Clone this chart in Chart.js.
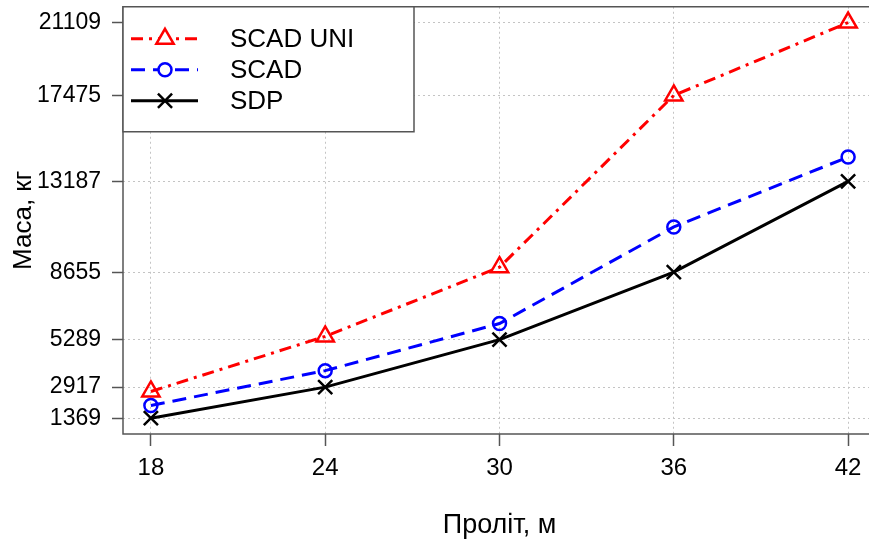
<!DOCTYPE html>
<html>
<head>
<meta charset="utf-8">
<script src="https://cdn.jsdelivr.net/npm/chart.js@4"></script>
<style>
    html, body { margin: 0; padding: 0; background: #fff; overflow: hidden; }
    .chart_wrap { position: relative; width: 890px; height: 554px; margin-top: -10px; }
</style>
</head>
<body>
<div class="chart_wrap"><canvas id="chartMass"></canvas></div>
<script>
// data
const spans = [18, 24, 30, 36, 42];
const scadUni = [2700, 5450, 8900, 17475, 21109];
const scad = [2000, 3740, 6090, 10910, 14400];
const sdp = [1369, 2917, 5289, 8655, 13187];
const yTicks = [1369, 2917, 5289, 8655, 13187, 17475, 21109];
const xTicks = [18, 24, 30, 36, 42];

const fontName = "'Liberation Sans', Arial, sans-serif";
const boxColor = '#555';
const gridColor = '#c4c4c4';

//legend - drawn inside the plot box, R style
const legendBox = {
    id: 'legendBox',
    afterDraw(chart) {
        const { ctx, chartArea } = chart;
        const x0 = chartArea.left, y0 = chartArea.top;
        ctx.save();
        ctx.fillStyle = '#fff';
        ctx.strokeStyle = boxColor;
        ctx.lineWidth = 1.5;
        ctx.fillRect(x0, y0, 291, 125);
        ctx.strokeRect(x0, y0, 291, 125);
        chart.data.datasets.forEach((ds, i) => {
            const y = y0 + 32 + i * 31;
            ctx.strokeStyle = ds.borderColor;
            ctx.lineWidth = ds.borderWidth;
            ctx.setLineDash(ds.borderDash || []);
            ctx.beginPath();
            ctx.moveTo(x0 + 8, y);
            ctx.lineTo(x0 + 75, y);
            ctx.stroke();
            ctx.setLineDash([]);
            ctx.fillStyle = '#fff';
            ctx.lineWidth = ds.pointBorderWidth;
            Chart.helpers.drawPoint(ctx, {
                pointStyle: ds.pointStyle,
                rotation: 0,
                radius: ds.pointRadius,
                borderWidth: ds.pointBorderWidth
            }, x0 + 42, y);
            ctx.fillStyle = '#000';
            ctx.font = '26px ' + fontName;
            ctx.textAlign = 'left';
            ctx.textBaseline = 'middle';
            ctx.fillText(ds.label, x0 + 107, y + 1);
        });
        ctx.restore();
    }
};

//plot box
const plotBox = {
    id: 'plotBox',
    beforeDatasetsDraw(chart) {
        const { ctx, chartArea } = chart;
        ctx.save();
        ctx.strokeStyle = boxColor;
        ctx.lineWidth = 1.5;
        ctx.strokeRect(chartArea.left, chartArea.top, chartArea.right - chartArea.left, chartArea.bottom - chartArea.top);
        ctx.restore();
    }
};

const toPoints = arr => arr.map((v, i) => ({ x: spans[i], y: v }));

new Chart(document.getElementById('chartMass').getContext('2d'), {
    type: 'line',
    data: {
        datasets: [
            {
                label: 'SCAD UNI',
                data: toPoints(scadUni),
                borderColor: '#ff0000',
                borderWidth: 3,
                borderDash: [12, 6, 3, 6],
                pointStyle: 'triangle',
                pointRadius: 10,
                pointBorderWidth: 2.5,
                pointBorderColor: '#ff0000',
                pointBackgroundColor: 'rgba(0,0,0,0)',
                tension: 0
            },
            {
                label: 'SCAD',
                data: toPoints(scad),
                borderColor: '#0000ff',
                borderWidth: 3,
                borderDash: [14, 8],
                pointStyle: 'circle',
                pointRadius: 6.5,
                pointBorderWidth: 2.5,
                pointBorderColor: '#0000ff',
                pointBackgroundColor: 'rgba(0,0,0,0)',
                tension: 0
            },
            {
                label: 'SDP',
                data: toPoints(sdp),
                borderColor: '#000000',
                borderWidth: 3,
                borderDash: [],
                pointStyle: 'crossRot',
                pointRadius: 10,
                pointBorderWidth: 2.5,
                pointBorderColor: '#000000',
                pointBackgroundColor: 'rgba(0,0,0,0)',
                tension: 0
            }
        ]
    },
    options: {
        responsive: true,
        maintainAspectRatio: false,
        animation: false,
        layout: { padding: { left: 0, right: 14, top: 0, bottom: 0 } },
        plugins: {
            legend: { display: false },
            tooltip: { enabled: false }
        },
        scales: {
            x: {
                type: 'linear',
                min: 17.04,
                max: 42.96,
                afterBuildTicks: scale => { scale.ticks = xTicks.map(v => ({ value: v })); },
                afterFit: scale => { scale.height = 110; },
                grid: {
                    color: gridColor,
                    lineWidth: 1,
                    tickLength: 12,
                    tickColor: boxColor,
                    tickWidth: 1.5,
                    tickBorderDash: []
                },
                border: { display: false, dash: [2, 3] },
                ticks: {
                    color: '#000',
                    padding: 8,
                    maxRotation: 0,
                    callback: v => String(v),
                    font: { family: fontName, size: 24 }
                },
                title: {
                    display: true,
                    text: 'Проліт, м',
                    color: '#000',
                    padding: { top: 0, bottom: 2 },
                    font: { family: fontName, size: 27 }
                }
            },
            y: {
                min: 579,
                max: 21899,
                afterBuildTicks: scale => { scale.ticks = yTicks.map(v => ({ value: v })); },
                afterFit: scale => { scale.width = 123; },
                grid: {
                    color: gridColor,
                    lineWidth: 1,
                    tickLength: 11,
                    tickColor: boxColor,
                    tickWidth: 1.5,
                    tickBorderDash: []
                },
                border: { display: false, dash: [2, 3] },
                ticks: {
                    color: '#000',
                    padding: 11,
                    callback: v => String(v),
                    font: { family: fontName, size: 23, lineHeight: 0.5 }
                },
                title: {
                    display: true,
                    text: 'Маса, кг',
                    color: '#000',
                    padding: { top: 8, bottom: 0 },
                    font: { family: fontName, size: 26 }
                }
            }
        }
    },
    plugins: [plotBox, legendBox]
});
</script>
</body>
</html>
